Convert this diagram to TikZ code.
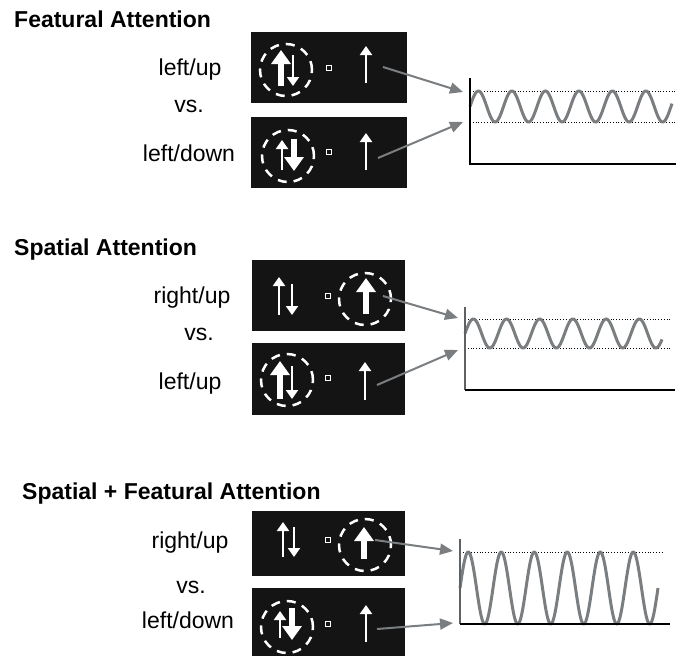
\documentclass[tikz,border=0pt]{standalone}
\usepackage{fontspec}
\setmainfont{Liberation Sans}
\usetikzlibrary{arrows.meta}
\definecolor{boxfill}{RGB}{20,20,20}
\definecolor{wavecol}{RGB}{122,126,128}
\definecolor{conncol}{RGB}{122,126,128}
\definecolor{axiscol}{RGB}{95,98,100}
\tikzset{
  panel/.style={fill=boxfill, draw=none, inner sep=0, anchor=north west},
  thinarr/.style={white, line width=2pt, -{Triangle[length=9pt,width=12pt]}},
  thickarr/.style={white, line width=6pt, -{Triangle[length=14pt,width=19pt]}},
  attn/.style={draw=white, line width=2.5pt, dash pattern=on 9pt off 7pt, circle, minimum size=52pt, inner sep=0},
  fixsq/.style={draw=white, line width=1.3pt, minimum size=5pt, inner sep=0, fill=boxfill},
  lbl/.style={font=\fontsize{23}{27}\selectfont, anchor=base, inner sep=0},
  ttl/.style={font=\fontsize{23}{27}\selectfont\bfseries, anchor=base west, inner sep=0},
  conn/.style={draw=conncol, line width=2pt, -{Triangle[length=13pt,width=11pt]}},
  wave/.style={draw=wavecol, line width=3pt, line join=round},
  dotln/.style={draw=black, dotted, line width=0.8pt},
}
\begin{document}
\begin{tikzpicture}[x=1pt,y=-1pt]
\useasboundingbox (0,0) rectangle (676,656);

% ---------------- Featural Attention ----------------
\node[ttl] (t1) at (14,27) {Featural Attention};
\node[lbl] (l1a) at (190,75) {left/up};
\node[lbl] (l1b) at (189,112) {vs.};
\node[lbl] (l1c) at (189,161) {left/down};

\node[panel, minimum width=156pt, minimum height=71pt] (b1) at (251,32) {};
\draw[thickarr] (281,86) -- (281,50);
\draw[thinarr] (293,55) -- (293,86);
\node[attn] (c1) at (286,70) {};
\node[fixsq] (q1) at (329,68) {};
\draw[thinarr] (366,83) -- (366,46);

\node[panel, minimum width=156pt, minimum height=71pt] (b2) at (251,117) {};
\draw[thinarr] (282,170) -- (282,140);
\draw[thickarr] (294,139) -- (294,171);
\node[attn] (c2) at (288,156) {};
\node[fixsq] (q2) at (329,152) {};
\draw[thinarr] (366,170) -- (366,133);

% graph 1
\draw[dotln] (470,91) -- (676,91);
\draw[dotln] (470,122) -- (676,122);
\draw[wave] plot[domain=0:202, samples=240] ({470+\x},{106.5-15.5*sin(\x*10.746)});
\draw[black, line width=1.3pt] (470,78) -- (470,164) -- (676,164);

\coordinate (s1) at (383,67);
\coordinate (e1) at (463,92);
\coordinate (s2) at (378,158);
\coordinate (e2) at (463,122);
\draw[conn] (s1) -- (e1);
\draw[conn] (s2) -- (e2);

% ---------------- Spatial Attention ----------------
\node[ttl] (t2) at (14,255) {Spatial Attention};
\node[lbl] (l2a) at (192,303) {right/up};
\node[lbl] (l2b) at (199,340) {vs.};
\node[lbl] (l2c) at (190,389) {left/up};

\node[panel, minimum width=153pt, minimum height=71pt] (b3) at (252,260) {};
\draw[thinarr] (279,315) -- (279,277);
\draw[thinarr] (292,284) -- (292,315);
\node[fixsq] (q3) at (328,296) {};
\draw[thickarr] (366,314) -- (366,278);
\node[attn] (c3) at (365,299) {};

\node[panel, minimum width=153pt, minimum height=72pt] (b4) at (252,343) {};
\draw[thickarr] (280,399) -- (280,361);
\draw[thinarr] (292,366) -- (292,399);
\node[attn] (c4) at (287,380) {};
\node[fixsq] (q4) at (328,378) {};
\draw[thinarr] (365,400) -- (365,362);

% graph 2
\draw[dotln] (465,319) -- (670,319);
\draw[dotln] (465,348) -- (670,348);
\draw[wave] plot[domain=0:197, samples=240] ({465+\x},{333.5-14.5*sin(\x*10.843)});
\draw[axiscol, line width=1.3pt] (465,307) -- (465,390);
\draw[black, line width=1.3pt] (465,390) -- (675,390);

\coordinate (s3) at (383,296);
\coordinate (e3) at (458,318);
\coordinate (s4) at (377,385);
\coordinate (e4) at (458,350);
\draw[conn] (s3) -- (e3);
\draw[conn] (s4) -- (e4);

% ---------------- Spatial + Featural Attention ----------------
\node[ttl] (t3) at (22,499) {Spatial + Featural Attention};
\node[lbl] (l3a) at (190,548) {right/up};
\node[lbl] (l3b) at (191,593) {vs.};
\node[lbl] (l3c) at (188,628) {left/down};

\node[panel, minimum width=153pt, minimum height=65pt] (b5) at (252,511) {};
\draw[thinarr] (283,557) -- (283,522);
\draw[thinarr] (294,527) -- (294,557);
\node[fixsq] (q5) at (328,540) {};
\draw[thickarr] (364,559) -- (364,527);
\node[attn] (c5) at (365,545) {};

\node[panel, minimum width=153pt, minimum height=68pt] (b6) at (252,588) {};
\draw[thinarr] (280,638) -- (280,611);
\draw[thickarr] (292,608) -- (292,640);
\node[attn] (c6) at (287,627) {};
\node[fixsq] (q6) at (328,624) {};
\draw[thinarr] (366,642) -- (366,605);

% graph 3
\draw[dotln] (460,552) -- (663,552);
\draw[wave] plot[domain=0:198, samples=240] ({460+\x},{588-36*sin(\x*10.909)});
\draw[axiscol, line width=1.3pt] (460,539) -- (460,624);
\draw[black, line width=1.3pt] (460,624) -- (670,624);

\coordinate (s5) at (375,540);
\coordinate (e5) at (453,551);
\coordinate (s6) at (377,629);
\coordinate (e6) at (453,623);
\draw[conn] (s5) -- (e5);
\draw[conn] (s6) -- (e6);
\end{tikzpicture}
\end{document}
